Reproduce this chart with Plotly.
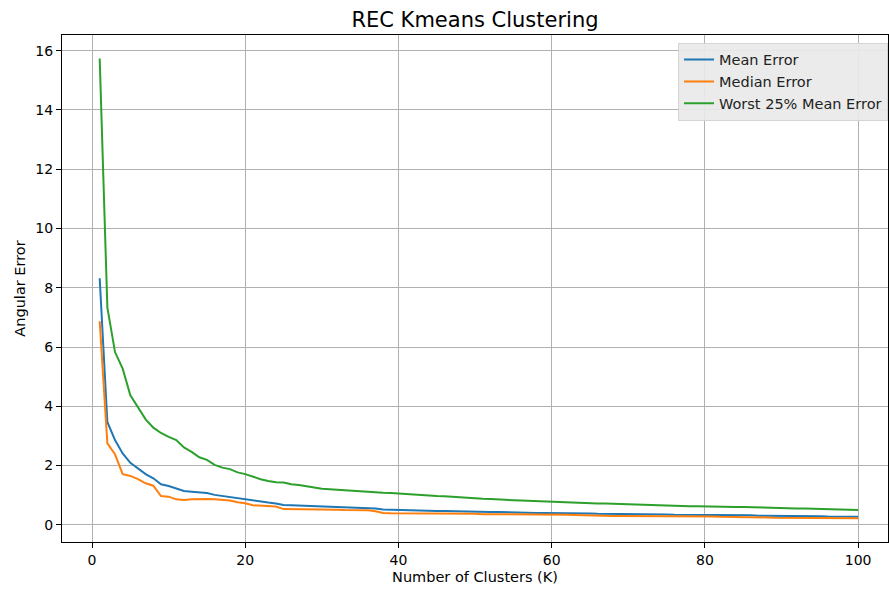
import plotly.graph_objects as go

k_values = list(range(1, 101))

mean_error = [
    8.32, 3.47, 2.86, 2.41, 2.09, 1.90, 1.71, 1.57, 1.37, 1.31,
    1.23, 1.14, 1.12, 1.09, 1.07, 1.01, 0.97, 0.95, 0.89, 0.86,
    0.81, 0.78, 0.75, 0.72, 0.67, 0.66, 0.65, 0.64, 0.63, 0.62,
    0.61, 0.60, 0.59, 0.58, 0.57, 0.57, 0.55, 0.52, 0.51, 0.50,
    0.50, 0.49, 0.48, 0.48, 0.47, 0.47, 0.46, 0.45, 0.45, 0.44,
    0.44, 0.43, 0.43, 0.42, 0.42, 0.41, 0.41, 0.40, 0.40, 0.40,
    0.40, 0.39, 0.39, 0.38, 0.38, 0.37, 0.37, 0.37, 0.36, 0.36,
    0.36, 0.35, 0.35, 0.35, 0.35, 0.34, 0.34, 0.34, 0.34, 0.34,
    0.33, 0.33, 0.33, 0.32, 0.32, 0.32, 0.31, 0.31, 0.31, 0.30,
    0.30, 0.30, 0.29, 0.29, 0.29, 0.28, 0.28, 0.28, 0.28, 0.27,
]

median_error = [
    6.87, 2.75, 2.38, 1.71, 1.65, 1.54, 1.40, 1.32, 0.97, 0.95,
    0.86, 0.84, 0.86, 0.87, 0.87, 0.86, 0.83, 0.82, 0.76, 0.73,
    0.66, 0.64, 0.64, 0.62, 0.53, 0.53, 0.53, 0.52, 0.52, 0.52,
    0.51, 0.51, 0.50, 0.50, 0.50, 0.49, 0.46, 0.40, 0.39, 0.39,
    0.39, 0.38, 0.38, 0.38, 0.38, 0.37, 0.37, 0.37, 0.37, 0.37,
    0.36, 0.36, 0.36, 0.36, 0.35, 0.35, 0.35, 0.35, 0.35, 0.35,
    0.34, 0.34, 0.33, 0.32, 0.31, 0.31, 0.30, 0.30, 0.30, 0.30,
    0.30, 0.29, 0.29, 0.29, 0.29, 0.28, 0.28, 0.28, 0.28, 0.28,
    0.28, 0.27, 0.27, 0.27, 0.27, 0.27, 0.26, 0.25, 0.24, 0.24,
    0.24, 0.23, 0.23, 0.23, 0.23, 0.23, 0.22, 0.22, 0.22, 0.22,
]

worst25_error = [
    15.74, 7.34, 5.83, 5.27, 4.37, 3.98, 3.56, 3.28, 3.10, 2.97,
    2.86, 2.61, 2.46, 2.28, 2.19, 2.02, 1.93, 1.88, 1.77, 1.71,
    1.62, 1.54, 1.48, 1.44, 1.43, 1.37, 1.34, 1.30, 1.25, 1.22,
    1.20, 1.18, 1.16, 1.15, 1.13, 1.11, 1.10, 1.08, 1.07, 1.05,
    1.03, 1.01, 0.99, 0.97, 0.97, 0.96, 0.94, 0.92, 0.91, 0.89,
    0.88, 0.87, 0.85, 0.84, 0.83, 0.82, 0.81, 0.79, 0.77, 0.76,
    0.75, 0.74, 0.74, 0.73, 0.73, 0.72, 0.72, 0.71, 0.71, 0.70,
    0.69, 0.68, 0.67, 0.66, 0.65, 0.64, 0.64, 0.63, 0.63, 0.62,
    0.62, 0.61, 0.61, 0.60, 0.60, 0.59, 0.59, 0.58, 0.58, 0.57,
    0.56, 0.55, 0.55, 0.54, 0.53, 0.52, 0.52, 0.51, 0.51, 0.50,
]

series_names = ["Mean Error", "Median Error", "Worst 25% Mean Error"]
series_colors = ["#1f77b4", "#ff7f0e", "#2ca02c"]
x_ticks = [0, 20, 40, 60, 80, 100]
y_ticks = [0, 2, 4, 6, 8, 10, 12, 14, 16]

fig = go.Figure()
for name, vals, col in zip(series_names, [mean_error, median_error, worst25_error], series_colors):
    fig.add_trace(go.Scatter(x=k_values, y=vals, mode="lines", name=name,
                             line=dict(color=col, width=2)))

font = "DejaVu Sans, Arial, sans-serif"
axis_common = dict(
    showgrid=True, gridcolor="#b0b0b0", gridwidth=1,
    showline=True, linecolor="black", linewidth=1, mirror=True,
    ticks="outside", ticklen=5, tickcolor="black", tickwidth=1,
    tickfont=dict(family=font, size=14, color="black"),
    zeroline=False,
)

fig.update_layout(
    width=889, height=589,
    paper_bgcolor="white", plot_bgcolor="white",
    margin=dict(l=62, r=1, t=35, b=47),
    title=dict(text="REC Kmeans Clustering", x=0.5, xanchor="center", xref="paper",
               y=0.966, yanchor="middle",
               font=dict(family=font, size=21, color="black")),
    xaxis=dict(range=[-3.92, 103.9], tickvals=x_ticks,
               title=dict(text="Number of Clusters (K)", font=dict(family=font, size=14.5, color="black"), standoff=5),
               **axis_common),
    yaxis=dict(range=[-0.58, 16.53], tickvals=y_ticks,
               title=dict(text="Angular Error", font=dict(family=font, size=14.5, color="black"), standoff=6),
               **axis_common),
    legend=dict(x=1.0, y=0.985, xanchor="right", yanchor="top",
                bgcolor="rgba(233,233,233,0.92)", bordercolor="#d4d4d4", borderwidth=1,
                font=dict(family=font, size=14.5, color="#222"), itemwidth=30),
    showlegend=True,
)

fig.write_html(
    "out.html",
    config={"responsive": False, "displayModeBar": False},
    post_script="document.body.style.margin='0px';document.body.style.overflow='hidden';",
)
